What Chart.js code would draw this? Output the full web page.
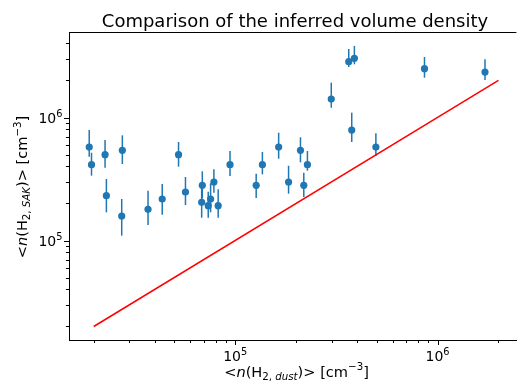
<!DOCTYPE html>
<html>
<head>
<meta charset="utf-8">
<script src="https://cdn.jsdelivr.net/npm/chart.js@4/dist/chart.umd.min.js"></script>
<style>
  html, body { margin: 0; padding: 0; background: #fff; }
  canvas { display: block; }
</style>
</head>
<body>
<canvas id="chart" width="520" height="387"></canvas>
<script>
// values (cm^-3)
const nDust = [19000, 19500, 22750, 23100, 27700, 27500, 37100, 43600, 52500, 56800,
  68300, 68800, 73600, 75600, 78500, 82400, 94300, 127000, 136300, 164000,
  183600, 210200, 218300, 227500, 298400, 364100, 376700, 388200, 495800, 862000, 1716000];
const nSak = [575000, 413500, 498500, 231500, 541000, 158200, 179200, 217500, 498500, 247900,
  204300, 280900, 192000, 217500, 299000, 192000, 413500, 280900, 413500, 575000,
  299000, 541000, 280900, 413500, 1413000, 2844000, 791000, 3029000, 575000, 2495000, 2344000];
const nSakLow = [480000, 336700, 390900, 169400, 418800, 109500, 133700, 162200, 398400, 194400,
  153300, 220200, 153300, 169400, 244800, 153300, 334600, 221600, 345100, 462700,
  240300, 432000, 225800, 369600, 1202000, 2573000, 632000, 2706000, 486400, 2108000, 2018000];
const nSakHigh = [791000, 517600, 656300, 316200, 716300, 217500, 254300, 288000, 632100, 328400,
  265500, 365000, 249500, 291600, 379000, 260600, 534200, 349400, 524300, 752800,
  405200, 690200, 356000, 534200, 1919000, 3605000, 1095000, 3816000, 743500, 3104000, 2971000];
const oneToOne = [20000, 2000000];

const majorTicks = [1e5, 1e6];
const majorExponents = ["5", "6"];
const xMinorTicks = [2e4, 3e4, 4e4, 5e4, 6e4, 7e4, 8e4, 9e4, 2e5, 3e5, 4e5, 5e5, 6e5, 7e5, 8e5, 9e5, 2e6];
const yMinorTicks = [2e4, 3e4, 4e4, 5e4, 6e4, 7e4, 8e4, 9e4, 2e5, 3e5, 4e5, 5e5, 6e5, 7e5, 8e5, 9e5, 2e6, 3e6, 4e6];

const titleText = "Comparison of the inferred volume density";
const xLabel = [{ t: "<" }, { t: "n", it: 1 }, { t: "(H" }, { t: "2, ", sub: 1 }, { t: "dust", sub: 1, it: 1 }, { t: ")> [cm" }, { t: "\u22123", sup: 1 }, { t: "]" }];
const yLabel = [{ t: "<" }, { t: "n", it: 1 }, { t: "(H" }, { t: "2, ", sub: 1 }, { t: "SAK", sub: 1, it: 1 }, { t: ")> [cm" }, { t: "\u22123", sup: 1 }, { t: "]" }];

const FONT = '"DejaVu Sans", sans-serif';
const BLUE = "#1f77b4";
const TICK_SIZE = 14;
const LABEL_SIZE = 14.6;

const fontFor = (p, size) => {
  const s = p.sub || p.sup ? size * 0.7 : size;
  return `${p.it ? "italic " : ""}${s}px ${FONT}`;
};

const richWidth = (ctx, parts, size) => {
  let w = 0;
  parts.forEach((p) => { ctx.font = fontFor(p, size); w += ctx.measureText(p.t).width; });
  return w;
};

// draws a run of text with italic / sub / sup parts, starting at x0
const drawRich = (ctx, parts, x0, base, size) => {
  let x = x0;
  ctx.textAlign = "left";
  ctx.textBaseline = "alphabetic";
  parts.forEach((p) => {
    ctx.font = fontFor(p, size);
    const dy = p.sub ? size * 0.22 : p.sup ? -size * 0.42 : 0;
    ctx.fillText(p.t, x, base + dy);
    x += ctx.measureText(p.t).width;
  });
};

const decorations = {
  id: "decorations",
  beforeDatasetsDraw(chart) {
    const { ctx, scales: { x, y } } = chart;
    ctx.save();
    ctx.strokeStyle = BLUE;
    ctx.lineWidth = 1.5;
    nDust.forEach((v, i) => {
      const px = x.getPixelForValue(v);
      ctx.beginPath();
      ctx.moveTo(px, y.getPixelForValue(nSakLow[i]));
      ctx.lineTo(px, y.getPixelForValue(nSakHigh[i]));
      ctx.stroke();
    });
    ctx.restore();
  },
  afterDraw(chart) {
    const { ctx, chartArea: a, scales: { x, y } } = chart;
    ctx.save();
    ctx.strokeStyle = "#000";
    ctx.lineWidth = 1;

    // top spine
    ctx.beginPath();
    ctx.moveTo(a.left, a.top + 0.5);
    ctx.lineTo(a.right, a.top + 0.5);
    ctx.stroke();

    const xtick = (vals, len) => {
      vals.forEach((v) => {
        const px = Math.round(x.getPixelForValue(v)) + 0.5;
        if (px < a.left || px > a.right) return;
        ctx.beginPath();
        ctx.moveTo(px, a.bottom);
        ctx.lineTo(px, a.bottom + len);
        ctx.stroke();
      });
    };
    const ytick = (vals, len) => {
      vals.forEach((v) => {
        const py = Math.round(y.getPixelForValue(v)) + 0.5;
        if (py < a.top || py > a.bottom) return;
        ctx.beginPath();
        ctx.moveTo(a.left, py);
        ctx.lineTo(a.left - len, py);
        ctx.stroke();
      });
    };
    xtick(xMinorTicks, 3);
    xtick(majorTicks, 5);
    ytick(yMinorTicks, 3);
    ytick(majorTicks, 5);

    ctx.fillStyle = "#000";
    // tick labels 10^n
    majorTicks.forEach((v, i) => {
      const parts = [{ t: "10" }, { t: majorExponents[i], sup: 1 }];
      const w = richWidth(ctx, parts, TICK_SIZE);
      drawRich(ctx, parts, x.getPixelForValue(v) - w / 2, 361, TICK_SIZE);
      drawRich(ctx, parts, 62.5 - w, y.getPixelForValue(v) + 5, TICK_SIZE);
    });

    // title and axis labels
    ctx.font = `18px ${FONT}`;
    ctx.textAlign = "center";
    ctx.fillText(titleText, 295, 26.5);
    drawRich(ctx, xLabel, 296.5 - richWidth(ctx, xLabel, LABEL_SIZE) / 2, 376.5, LABEL_SIZE);
    ctx.translate(27, 187);
    ctx.rotate(-Math.PI / 2);
    drawRich(ctx, yLabel, -richWidth(ctx, yLabel, LABEL_SIZE) / 2, 0, LABEL_SIZE);
    ctx.restore();
  }
};

new Chart(document.getElementById("chart"), {
  data: {
    datasets: [
      {
        type: "scatter",
        data: nDust.map((v, i) => ({ x: v, y: nSak[i] })),
        backgroundColor: BLUE,
        borderWidth: 0,
        pointRadius: 3.6,
        pointHoverRadius: 3.6
      },
      {
        type: "line",
        data: oneToOne.map((v) => ({ x: v, y: v })),
        borderColor: "#ff0000",
        borderWidth: 1.5,
        pointRadius: 0,
        fill: false
      }
    ]
  },
  plugins: [decorations],
  options: {
    responsive: false,
    animation: false,
    devicePixelRatio: 1,
    events: [],
    layout: { padding: { top: 32, right: 0, left: 0, bottom: 0 } },
    plugins: { legend: { display: false }, title: { display: false }, tooltip: { enabled: false } },
    scales: {
      x: {
        type: "logarithmic",
        min: 15095,
        max: 2453000,
        ticks: { display: false },
        grid: { display: false },
        border: { display: true, color: "#000", width: 1 },
        afterFit: (s) => { s.height = 47; }
      },
      y: {
        type: "logarithmic",
        min: 15530,
        max: 4956000,
        ticks: { display: false },
        grid: { display: false },
        border: { display: true, color: "#000", width: 1 },
        afterFit: (s) => { s.width = 69; }
      }
    }
  }
});
</script>
</body>
</html>
